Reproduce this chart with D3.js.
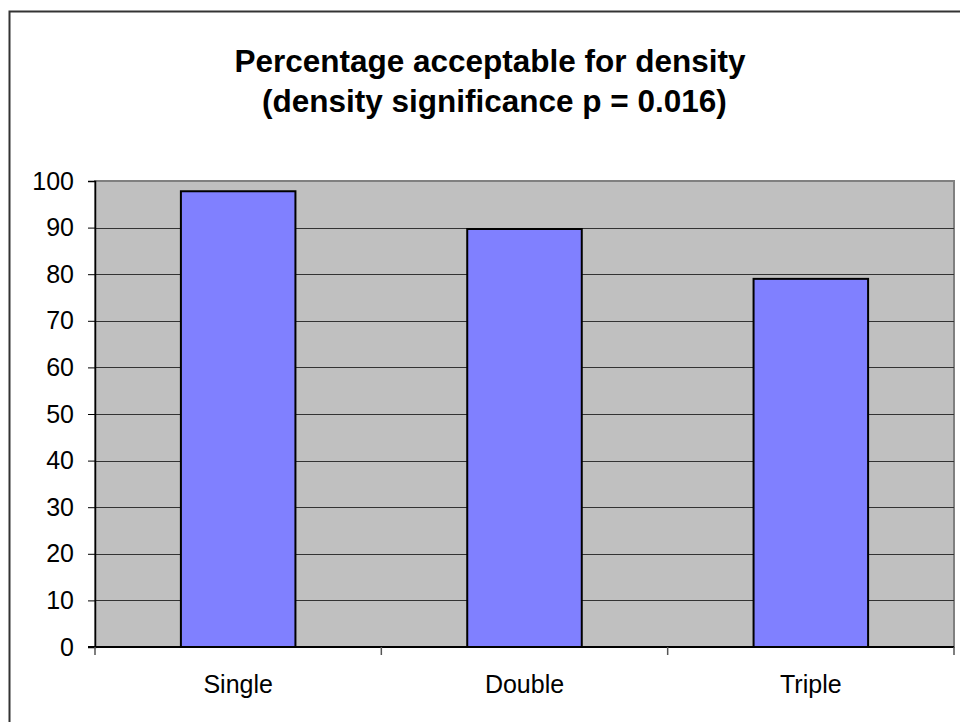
<!DOCTYPE html>
<html>
<head>
<meta charset="utf-8">
<script src="https://cdn.jsdelivr.net/npm/d3@7"></script>
<style>
  body { margin: 0; background: #fff; }
  text { font-family: "Liberation Sans", Arial, sans-serif; }
</style>
</head>
<body>
<svg width="960" height="722"></svg>
<script>
var categories = ["Single", "Double", "Triple"];
var values = [97.8, 89.7, 79.0];
var yTicks = [0, 10, 20, 30, 40, 50, 60, 70, 80, 90, 100];
var titleLines = ["Percentage acceptable for density", " (density significance p = 0.016)"];

var svg = d3.select("svg"),
    width = +svg.attr("width"),
    height = +svg.attr("height");

var plotLeft = 95, plotRight = 954, plotTop = 181, plotBottom = 647;

// outer chart frame
svg.append("rect")
    .attr("x", 9.5).attr("y", 11.5)
    .attr("width", 960).attr("height", 720)
    .attr("fill", "#fff")
    .attr("stroke", "#333")
    .attr("stroke-width", 2);

svg.selectAll(".title")
    .data(titleLines)
    .enter().append("text")
    .attr("class", "title")
    .attr("x", 490)
    .attr("y", function(d, i) { return 72 + i * 40; })
    .attr("font-size", 31.5)
    .attr("font-weight", "bold")
    .attr("text-anchor", "middle")
    .attr("xml:space", "preserve")
    .text(function(d) { return d; });

var x = d3.scaleBand()
    .domain(categories)
    .range([plotLeft, plotRight])
    .paddingInner(0.6)
    .paddingOuter(0.3);

var xOuter = d3.scaleBand()
    .domain(categories)
    .range([plotLeft, plotRight]);

var y = d3.scaleLinear()
    .domain([0, 100])
    .range([plotBottom, plotTop]);

// plot area
svg.append("rect")
    .attr("x", plotLeft).attr("y", plotTop)
    .attr("width", plotRight - plotLeft).attr("height", plotBottom - plotTop)
    .attr("fill", "#c0c0c0")
    .attr("stroke", "#808080")
    .attr("stroke-width", 2);

// gridlines
svg.append("g")
    .selectAll("line")
    .data(yTicks.filter(function(d) { return d > 0 && d < 100; }))
    .enter().append("line")
    .attr("x1", plotLeft).attr("x2", plotRight)
    .attr("y1", function(d) { return Math.round(y(d)) + 0.5; })
    .attr("y2", function(d) { return Math.round(y(d)) + 0.5; })
    .attr("stroke", "#333")
    .attr("stroke-width", 1);

// bars
svg.append("g")
    .selectAll("rect")
    .data(values)
    .enter().append("rect")
    .attr("x", function(d, i) { return x(categories[i]); })
    .attr("y", function(d) { return y(d); })
    .attr("width", x.bandwidth())
    .attr("height", function(d) { return plotBottom - y(d); })
    .attr("fill", "#8080ff")
    .attr("stroke", "#000")
    .attr("stroke-width", 2);

// y axis
var yAxis = svg.append("g")
    .attr("transform", "translate(" + plotLeft + ",0)")
    .call(d3.axisLeft(y).tickValues(yTicks).tickSize(7).tickPadding(14));
yAxis.select(".domain").attr("stroke", "#000").attr("stroke-width", 1.5);
yAxis.selectAll(".tick line").attr("stroke", "#000");
yAxis.selectAll(".tick text")
    .attr("font-size", 25)
    .attr("font-family", "Liberation Sans, Arial, sans-serif")
    .attr("fill", "#000");

// x axis
var xAxis = svg.append("g")
    .attr("transform", "translate(0," + plotBottom + ")");
xAxis.append("line")
    .attr("x1", plotLeft - 7).attr("x2", plotRight)
    .attr("stroke", "#000").attr("stroke-width", 2);
xAxis.selectAll(".cat-tick")
    .data(categories.concat(["end"]))
    .enter().append("line")
    .attr("class", "cat-tick")
    .attr("x1", function(d, i) { return plotLeft + i * xOuter.bandwidth(); })
    .attr("x2", function(d, i) { return plotLeft + i * xOuter.bandwidth(); })
    .attr("y1", 0).attr("y2", 8)
    .attr("stroke", "#555").attr("stroke-width", 1.5);
xAxis.selectAll("text")
    .data(categories)
    .enter().append("text")
    .attr("x", function(d) { return xOuter(d) + xOuter.bandwidth() / 2; })
    .attr("y", 46)
    .attr("text-anchor", "middle")
    .attr("font-size", 25)
    .text(function(d) { return d; });
</script>
</body>
</html>
